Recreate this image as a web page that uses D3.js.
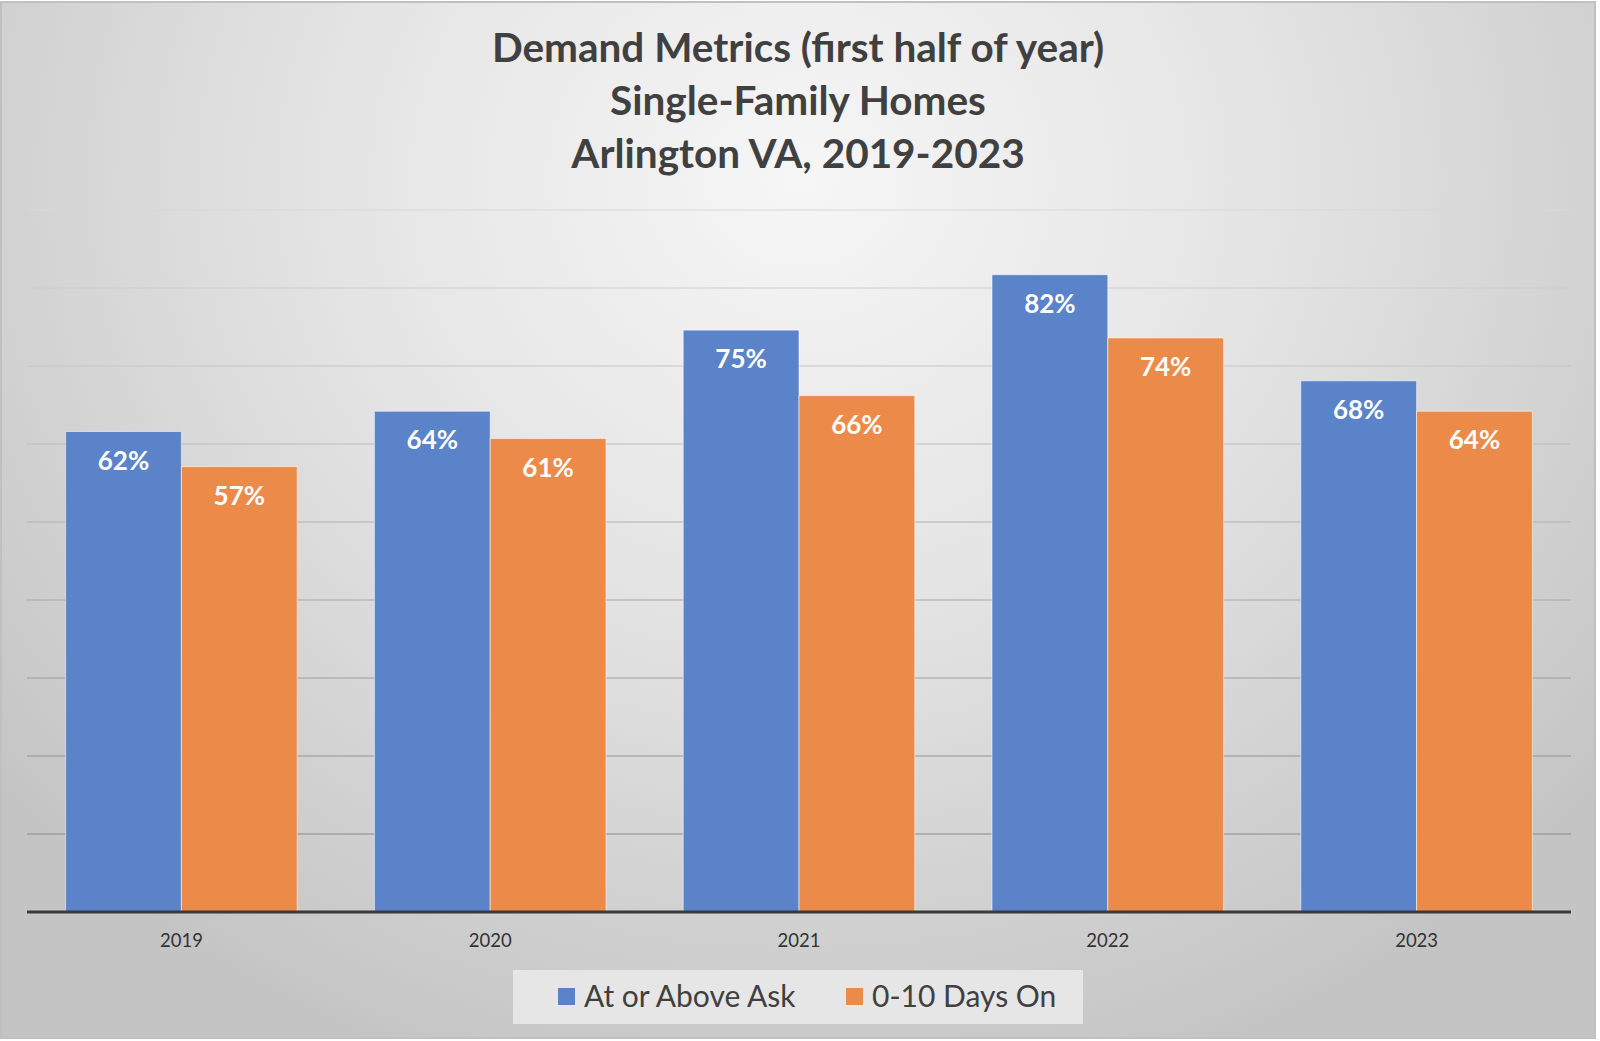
<!DOCTYPE html>
<html>
<head>
<meta charset="utf-8">
<script src="https://cdn.jsdelivr.net/npm/d3@7"></script>
<style>
  body { margin: 0; background: #fff; }
  text { font-family: Lato, "Open Sans", sans-serif; }
</style>
</head>
<body>
<div id="app"></div>
<script>
// Chart data (bar heights, labels show rounded values)
const years = ["2019", "2020", "2021", "2022", "2023"];
const seriesNames = ["At or Above Ask", "0-10 Days On"];
const atOrAboveAsk = [61.6, 64.2, 74.6, 81.7, 68.1];
const daysOn = [57.1, 60.7, 66.2, 73.6, 64.2];
const yTicks = [0, 10, 20, 30, 40, 50, 60, 70, 80, 90];
const titleLines = ["Demand Metrics (first half of year)", "Single-Family Homes", "Arlington VA, 2019-2023"];

const width = 1600;
const height = 1041;
const colors = ["#5b83c9", "#ec8b49"];

const svg = d3.select("#app").append("svg")
  .attr("width", width)
  .attr("height", height);

// Background gradient (light centre, grey edges)
const defs = svg.append("defs");
const grad = defs.append("radialGradient")
  .attr("id", "bg")
  .attr("gradientUnits", "userSpaceOnUse")
  .attr("cx", 800).attr("cy", 180).attr("r", 950)
  .attr("gradientTransform", "translate(800,180) scale(1.1,1) translate(-800,-180)");
grad.append("stop").attr("offset", 0).attr("stop-color", "#f6f6f6");
grad.append("stop").attr("offset", 0.45).attr("stop-color", "#e4e4e4");
grad.append("stop").attr("offset", 1).attr("stop-color", "#c4c4c4");

svg.append("rect")
  .attr("x", 1).attr("y", 2)
  .attr("width", 1594).attr("height", 1036)
  .attr("fill", "url(#bg)")
  .attr("stroke", "#c0c0c0")
  .attr("stroke-width", 2);

// Scales
const x0 = d3.scaleBand()
  .domain(years)
  .range([27, 1571])
  .paddingInner(0.25)
  .paddingOuter(0.125);

const x1 = d3.scaleBand()
  .domain(seriesNames)
  .range([0, x0.bandwidth()]);

const y = d3.scaleLinear()
  .domain([0, 90])
  .range([912, 210]);

// Gridlines (they get darker towards the bottom)
const gridColor = d3.scaleLinear().domain([90, 10]).range(["#d8d8d8", "#8a8a8a"]);
svg.append("g")
  .selectAll("line")
  .data(yTicks.filter((d) => d > 0))
  .enter()
  .append("line")
  .attr("x1", 27).attr("x2", 1571)
  .attr("y1", (d) => y(d)).attr("y2", (d) => y(d))
  .attr("stroke", (d) => gridColor(d))
  .attr("stroke-width", 1.2);

// Bars
const rows = years.map((yr, i) => ({
  year: yr,
  values: [atOrAboveAsk[i], daysOn[i]]
}));

const groups = svg.selectAll("g.year")
  .data(rows)
  .enter()
  .append("g")
  .attr("class", "year")
  .attr("transform", (d) => `translate(${x0(d.year)},0)`);

const cells = groups.selectAll("g.bar")
  .data((d) => d.values.map((v, j) => ({ name: seriesNames[j], value: v, j })))
  .enter()
  .append("g")
  .attr("class", "bar");

cells.append("rect")
  .attr("x", (d) => x1(d.name))
  .attr("y", (d) => y(d.value))
  .attr("width", x1.bandwidth())
  .attr("height", (d) => y(0) - y(d.value))
  .attr("fill", (d) => colors[d.j])
  .attr("stroke", "rgba(255,255,255,0.55)")
  .attr("stroke-width", 1);

cells.append("text")
  .attr("x", (d) => x1(d.name) + x1.bandwidth() / 2)
  .attr("y", (d) => y(d.value) + 38)
  .attr("text-anchor", "middle")
  .attr("fill", "#fff")
  .attr("font-weight", "bold")
  .attr("font-size", 26)
  .text((d) => Math.round(d.value) + "%");

// X axis
const xAxis = d3.axisBottom(x0).tickSize(0).tickPadding(22);
const gx = svg.append("g")
  .attr("transform", `translate(0, ${y(0)})`)
  .call(xAxis);
gx.select(".domain").attr("stroke", "#3a3a3a").attr("stroke-width", 3).attr("d", "M27,0H1571");
gx.selectAll("text")
  .attr("font-size", 18.5)
  .attr("fill", "#333")
  .style("font-family", "Lato, 'Open Sans', sans-serif");

// Title
svg.append("g")
  .selectAll("text")
  .data(titleLines)
  .enter()
  .append("text")
  .attr("x", 798)
  .attr("y", (d, i) => 62 + i * 53)
  .attr("text-anchor", "middle")
  .attr("font-size", 40.5)
  .attr("font-weight", "bold")
  .attr("fill", "#404040")
  .text((d) => d);

// Legend
svg.append("rect")
  .attr("x", 513).attr("y", 970)
  .attr("width", 570).attr("height", 54)
  .attr("fill", "#e6e6e6");

const legendX = [558, 846];
const legend = svg.selectAll("g.legend")
  .data(seriesNames)
  .enter()
  .append("g")
  .attr("class", "legend")
  .attr("transform", (d, i) => `translate(${legendX[i]}, 988)`);

legend.append("rect")
  .attr("width", 17).attr("height", 17)
  .attr("fill", (d, i) => colors[i]);

legend.append("text")
  .attr("x", 26)
  .attr("y", 19)
  .attr("font-size", 30)
  .attr("fill", "#404040")
  .text((d) => d);
</script>
</body>
</html>
